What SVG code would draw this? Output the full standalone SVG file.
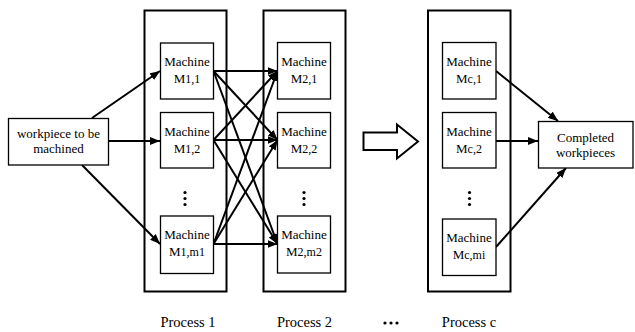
<svg xmlns="http://www.w3.org/2000/svg" width="635" height="332" viewBox="0 0 635 332">
<style>
.col{fill:none;stroke:#000;stroke-width:2}
.box{fill:#fff;stroke:#000;stroke-width:1.3}
.t{font-family:"Liberation Serif","Times New Roman",serif;font-size:13px;fill:#000;text-anchor:middle}
.lab{font-family:"Liberation Serif","Times New Roman",serif;font-size:14.5px;fill:#000;text-anchor:middle}
.sub{font-size:12px}
.c{stroke:#000;stroke-width:2;fill:none;marker-end:url(#ah)}
.dot{fill:#000}
</style>
<defs>
<marker id="ah" markerUnits="userSpaceOnUse" markerWidth="11" markerHeight="8" refX="10" refY="4" orient="auto">
<path d="M0,0 L10,4 L0,8 z" fill="#000"/>
</marker>
</defs>
<rect x="0" y="0" width="635" height="332" fill="#fff"/>
<g id="process1">
<rect class="col" x="144.5" y="10.5" width="82" height="281"/>
<circle class="dot" cx="185" cy="192.5" r="1.6"/><circle class="dot" cx="185" cy="198.5" r="1.6"/><circle class="dot" cx="185" cy="204.5" r="1.6"/>
<text class="lab" x="188" y="327">Process 1</text>
</g>
<g id="process2">
<rect class="col" x="263.5" y="10.5" width="82" height="281"/>
<circle class="dot" cx="304" cy="192.5" r="1.6"/><circle class="dot" cx="304" cy="198.5" r="1.6"/><circle class="dot" cx="304" cy="204.5" r="1.6"/>
<text class="lab" x="304.5" y="327">Process 2</text>
</g>
<g id="processc">
<rect class="col" x="428" y="10.5" width="82.5" height="281"/>
<circle class="dot" cx="469.5" cy="192.5" r="1.6"/><circle class="dot" cx="469.5" cy="198.5" r="1.6"/><circle class="dot" cx="469.5" cy="204.5" r="1.6"/>
<text class="lab" x="469" y="327">Process c</text>
</g>
<g id="ellipsis">
<circle class="dot" cx="385" cy="323" r="1.6"/><circle class="dot" cx="391" cy="323" r="1.6"/><circle class="dot" cx="397" cy="323" r="1.6"/>
</g>
<g id="bigarrow">
<path d="M363.5,132.5 L397,132.5 L397,124.5 L418,141.5 L397,158.5 L397,150 L363.5,150 z" fill="#fff" stroke="#000" stroke-width="2" stroke-linejoin="miter"/>
</g>
<g id="connectors">
<line class="c" x1="92" y1="118" x2="160" y2="71"/>
<line class="c" x1="108" y1="141" x2="160" y2="141"/>
<line class="c" x1="82" y1="165" x2="160" y2="244"/>
<line class="c" x1="213.5" y1="71" x2="277.5" y2="71"/>
<line class="c" x1="213.5" y1="71" x2="277.5" y2="140"/>
<line class="c" x1="213.5" y1="71" x2="277.5" y2="244"/>
<line class="c" x1="213.5" y1="140" x2="277.5" y2="71"/>
<line class="c" x1="213.5" y1="140" x2="277.5" y2="140"/>
<line class="c" x1="213.5" y1="140" x2="277.5" y2="244"/>
<line class="c" x1="213.5" y1="244" x2="277.5" y2="71"/>
<line class="c" x1="213.5" y1="244" x2="277.5" y2="140"/>
<line class="c" x1="213.5" y1="244" x2="277.5" y2="244"/>
<line class="c" x1="496" y1="71" x2="558" y2="121"/>
<line class="c" x1="496" y1="141" x2="538" y2="141"/>
<line class="c" x1="496" y1="247" x2="566" y2="168"/>
</g>
<g id="workpiece">
<rect class="box" x="8.5" y="118.5" width="100" height="46.5"/>
<text class="t" x="58.5" y="138">workpiece to be</text>
<text class="t" x="58.5" y="153">machined</text>
</g>
<g id="completed">
<rect class="box" x="538.5" y="121.5" width="94.5" height="46.5"/>
<text class="t" x="585.5" y="141.5">Completed</text>
<text class="t" x="585.5" y="156.5">workpieces</text>
</g>
<g id="m11">
<rect class="box" x="160.5" y="43" width="53" height="56"/>
<text class="t" x="187" y="66">Machine</text>
<text class="t" x="187" y="83">M<tspan class="sub">1,1</tspan></text>
</g>
<g id="m12">
<rect class="box" x="160.5" y="112.5" width="53" height="55.5"/>
<text class="t" x="187" y="135.5">Machine</text>
<text class="t" x="187" y="152.5">M<tspan class="sub">1,2</tspan></text>
</g>
<g id="m1m1">
<rect class="box" x="160.5" y="216" width="53" height="57.5"/>
<text class="t" x="187" y="239">Machine</text>
<text class="t" x="187" y="256">M<tspan class="sub">1,m1</tspan></text>
</g>
<g id="m21">
<rect class="box" x="277.5" y="42.5" width="53" height="56.5"/>
<text class="t" x="304" y="66">Machine</text>
<text class="t" x="304" y="83">M<tspan class="sub">2,1</tspan></text>
</g>
<g id="m22">
<rect class="box" x="277.5" y="112.5" width="53" height="55.5"/>
<text class="t" x="304" y="135.5">Machine</text>
<text class="t" x="304" y="152.5">M<tspan class="sub">2,2</tspan></text>
</g>
<g id="m2m2">
<rect class="box" x="277.5" y="216" width="53" height="57"/>
<text class="t" x="304" y="239">Machine</text>
<text class="t" x="304" y="256">M<tspan class="sub">2,m2</tspan></text>
</g>
<g id="mc1">
<rect class="box" x="442.5" y="42.5" width="53.5" height="56.5"/>
<text class="t" x="469" y="66">Machine</text>
<text class="t" x="469" y="83">M<tspan class="sub">c,1</tspan></text>
</g>
<g id="mc2">
<rect class="box" x="442.5" y="112.5" width="53.5" height="55.5"/>
<text class="t" x="469" y="135.5">Machine</text>
<text class="t" x="469" y="152.5">M<tspan class="sub">c,2</tspan></text>
</g>
<g id="mcmi">
<rect class="box" x="442.5" y="219" width="53.5" height="56.5"/>
<text class="t" x="469" y="242">Machine</text>
<text class="t" x="469" y="259">M<tspan class="sub">c,mi</tspan></text>
</g>
</svg>
